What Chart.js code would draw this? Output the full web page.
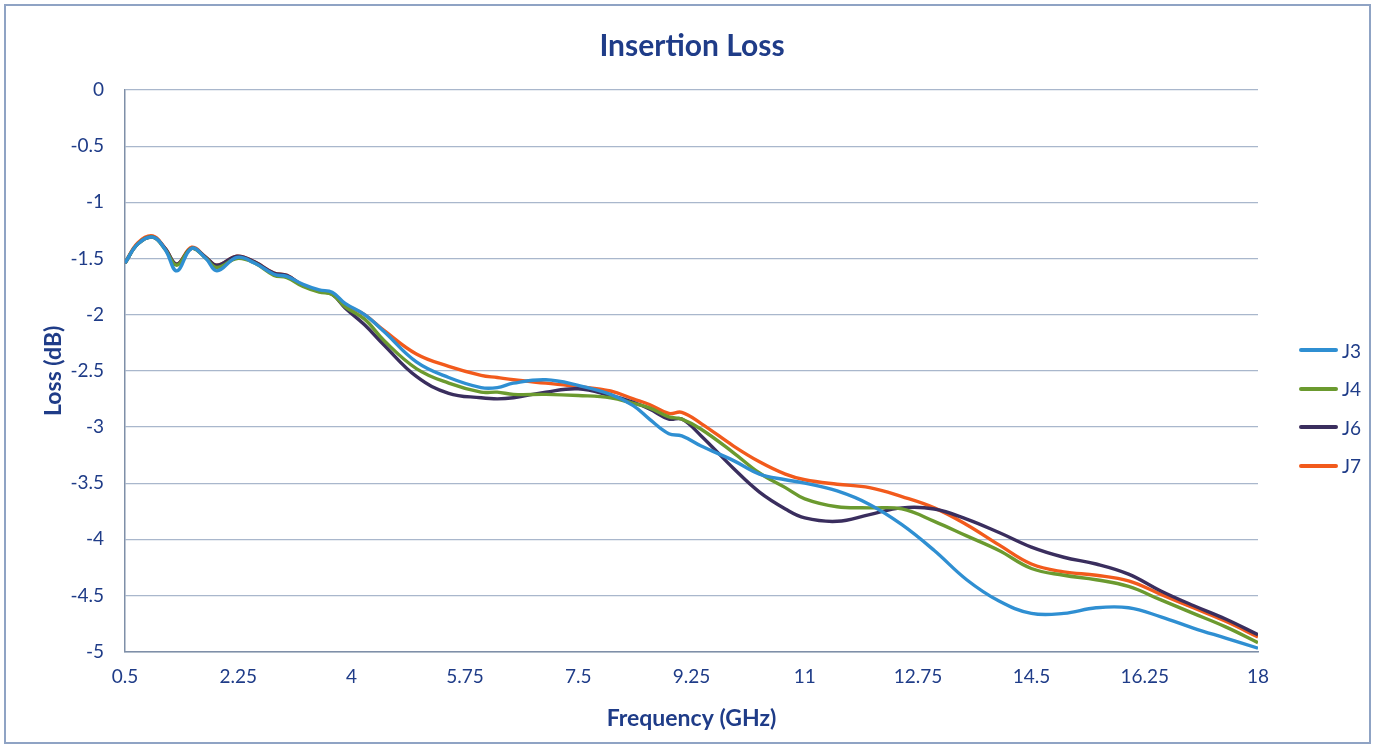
<!DOCTYPE html>
<html>
<head>
<meta charset="utf-8">
<script src="https://cdn.jsdelivr.net/npm/chart.js@4.4.1/dist/chart.umd.min.js"></script>
<style>
  html, body { margin: 0; padding: 0; background: #fff; }
  #wrap {
    position: absolute; left: 4px; top: 4px;
    width: 1367px; height: 740px;
    border: 2px solid #8fa3c4; box-sizing: border-box;
    background: #fff;
  }
  canvas { display: block; }
  #title {
    position: absolute; left: 486px; top: 20px; width: 400px;
    text-align: center; line-height: 36px;
    font-family: Lato, "Open Sans", sans-serif; font-size: 30px; font-weight: bold; color: #1f3c88;
  }
  #legend {
    position: absolute; left: 1293px; top: 325px;
    font-family: Lato, "Open Sans", sans-serif; font-size: 19px; color: #1f3c88;
  }
  #legend .item { height: 38.5px; display: flex; align-items: center; }
  #legend .swatch { width: 39px; height: 4px; border-radius: 2px; margin-right: 4px; }
</style>
</head>
<body>
<div id="wrap">
  <canvas id="lossChart"></canvas>
  <div id="title">Insertion Loss</div>
  <div id="legend"></div>
</div>
<script>
// frequency points (GHz)
const freqs = [0.5, 0.7, 0.93, 1.12, 1.3, 1.53, 1.75, 1.92, 2.23, 2.5, 2.8, 3.0, 3.25, 3.5, 3.7, 3.9, 4.2, 4.5,
               5.0, 5.5, 6.0, 6.25, 6.5, 7.0, 7.5, 8.0, 8.35, 8.6, 8.9, 9.1, 9.4, 9.9, 10.3, 10.7, 11.0, 11.5,
               12.0, 12.5, 13.0, 13.5, 14.0, 14.5, 15.0, 15.5, 16.0, 16.5, 17.0, 17.5, 18.0];

// insertion loss (dB) per connector
const j3 = [-1.54, -1.37, -1.31, -1.42, -1.61, -1.41, -1.50, -1.61, -1.49, -1.54, -1.64, -1.66, -1.73, -1.78, -1.80, -1.90, -2.00, -2.15,
            -2.42, -2.56, -2.65, -2.65, -2.61, -2.58, -2.63, -2.71, -2.81, -2.93, -3.06, -3.08, -3.17, -3.30, -3.42, -3.47, -3.50, -3.57,
            -3.69, -3.87, -4.10, -4.36, -4.55, -4.66, -4.66, -4.61, -4.61, -4.69, -4.79, -4.88, -4.97];
const j4 = [-1.54, -1.37, -1.31, -1.42, -1.56, -1.41, -1.50, -1.58, -1.50, -1.54, -1.65, -1.67, -1.75, -1.80, -1.82, -1.93, -2.04, -2.23,
            -2.48, -2.61, -2.69, -2.69, -2.71, -2.71, -2.72, -2.74, -2.79, -2.83, -2.91, -2.93, -3.02, -3.23, -3.41, -3.54, -3.64, -3.71,
            -3.72, -3.73, -3.84, -3.97, -4.10, -4.26, -4.32, -4.36, -4.42, -4.54, -4.66, -4.78, -4.92];
const j6 = [-1.54, -1.37, -1.31, -1.41, -1.55, -1.41, -1.49, -1.56, -1.48, -1.53, -1.63, -1.65, -1.74, -1.79, -1.82, -1.94, -2.09, -2.27,
            -2.55, -2.70, -2.74, -2.75, -2.74, -2.69, -2.66, -2.72, -2.78, -2.84, -2.93, -2.93, -3.08, -3.37, -3.58, -3.73, -3.81, -3.84,
            -3.78, -3.72, -3.73, -3.82, -3.94, -4.07, -4.16, -4.22, -4.31, -4.46, -4.59, -4.71, -4.85];
const j7 = [-1.54, -1.36, -1.30, -1.41, -1.55, -1.40, -1.49, -1.56, -1.48, -1.53, -1.63, -1.65, -1.74, -1.79, -1.81, -1.91, -2.00, -2.14,
            -2.35, -2.46, -2.54, -2.56, -2.58, -2.61, -2.64, -2.68, -2.75, -2.80, -2.88, -2.87, -2.97, -3.17, -3.31, -3.42, -3.47, -3.51,
            -3.54, -3.62, -3.72, -3.87, -4.05, -4.22, -4.29, -4.32, -4.37, -4.49, -4.61, -4.73, -4.87];

// x axis tick labels
const xTicks = [0.5, 2.25, 4, 5.75, 7.5, 9.25, 11, 12.75, 14.5, 16.25, 18];

const seriesNames = ["J3", "J4", "J6", "J7"];
const seriesData = [j3, j4, j6, j7];
const seriesColors = ["#2f8fd2", "#6b9a2f", "#3a2e5e", "#f25a1c"];

const navy = "#1f3c88";
const font = "Lato, 'Open Sans', sans-serif";

// build datasets from the arrays above
const datasets = seriesNames.map((name, i) => ({
    label: name,
    data: freqs.map((f, k) => ({ x: f, y: seriesData[i][k] })),
    borderColor: seriesColors[i],
    backgroundColor: seriesColors[i],
    borderWidth: 3.4,
    pointRadius: 0,
    tension: 0.4,
    fill: false
}));

// legend on the right, drawn as html
const legend = document.getElementById("legend");
seriesNames.forEach((name, i) => {
    legend.innerHTML += `<div class="item"><span class="swatch" style="background:${seriesColors[i]}"></span>${name}</div>`;
});

new Chart(document.getElementById("lossChart"), {
    type: "line",
    data: { datasets: datasets },
    options: {
        responsive: true,
        maintainAspectRatio: false,
        animation: false,
        layout: { padding: { top: 84, right: 111, bottom: 6, left: 30 } },
        plugins: {
            legend: { display: false },
            tooltip: { enabled: false }
        },
        scales: {
            x: {
                type: "linear",
                min: 0.5,
                max: 18,
                afterBuildTicks: axis => { axis.ticks = xTicks.map(v => ({ value: v })); },
                ticks: {
                    color: navy,
                    font: { family: font, size: 19 },
                    maxRotation: 0,
                    autoSkip: false,
                    padding: 14,
                    callback: v => String(v)
                },
                grid: { display: false, drawTicks: false },
                border: { display: true, color: "#7f8fa8", width: 1.5 },
                title: {
                    display: true,
                    text: "Frequency (GHz)",
                    color: navy,
                    font: { family: font, size: 23, weight: "bold" },
                    padding: { top: 2 }
                }
            },
            y: {
                min: -5,
                max: 0,
                afterFit: axis => { axis.width = 89; },
                ticks: {
                    stepSize: 0.5,
                    color: navy,
                    font: { family: font, size: 19 },
                    padding: 21,
                    callback: v => String(v)
                },
                grid: { color: "#a9b7cc", lineWidth: 1.2, drawTicks: false },
                border: { display: true, color: "#7f8fa8", width: 1.5 },
                title: {
                    display: true,
                    text: "Loss (dB)",
                    color: navy,
                    font: { family: font, size: 23, weight: "bold" },
                    padding: { bottom: 0 }
                }
            }
        }
    }
});
</script>
</body>
</html>
